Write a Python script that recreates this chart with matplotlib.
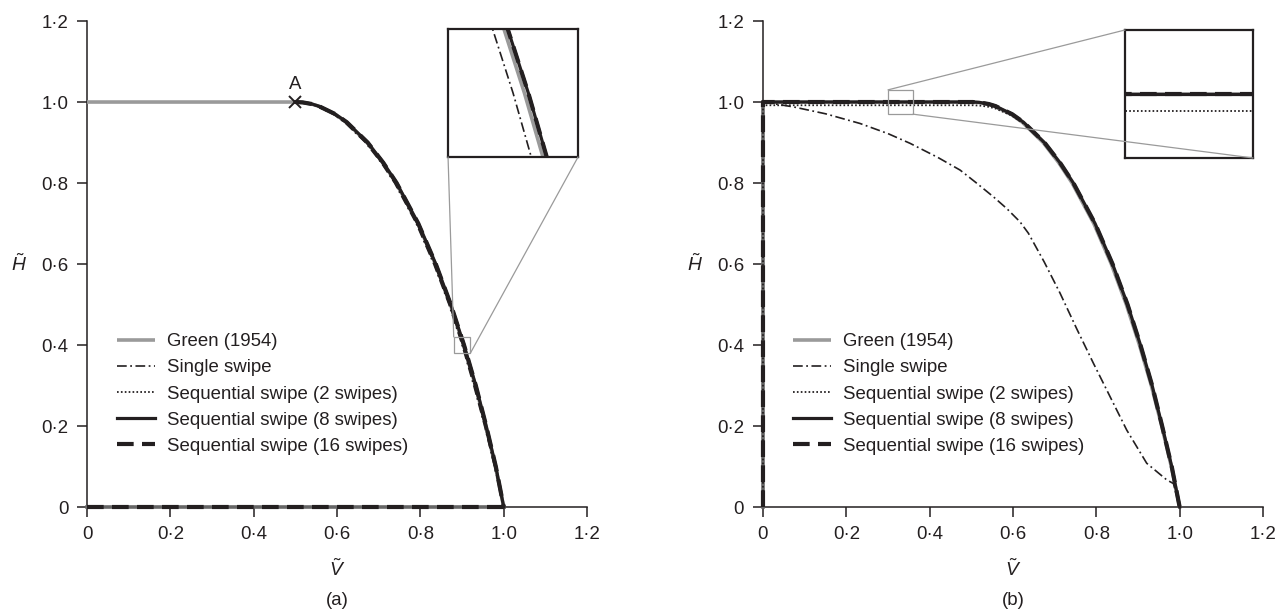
import matplotlib
matplotlib.use('Agg')
import matplotlib.pyplot as plt
from matplotlib.patches import Rectangle, ConnectionPatch

plt.rcParams['font.family'] = ['Liberation Sans', 'DejaVu Sans']
plt.rcParams['mathtext.fontset'] = 'custom'
plt.rcParams['mathtext.rm'] = 'Liberation Sans'
plt.rcParams['mathtext.it'] = 'Liberation Sans:italic'
plt.rcParams['lines.scale_dashes'] = False

# Datos
ticks = [0, 0.2, 0.4, 0.6, 0.8, 1.0, 1.2]
tick_labels = ['0', '0·2', '0·4', '0·6', '0·8', '1·0', '1·2']

# Green (1954)
green_V = [0.0, 0.5, 0.517, 0.539, 0.555, 0.595, 0.6225, 0.6725, 0.710, 0.742,
           0.794, 0.836, 0.872, 0.9035, 0.932, 0.957, 0.980, 1.0]
green_H = [1.0, 1.0, 0.999, 0.995, 0.99, 0.97, 0.95, 0.9, 0.85, 0.8,
           0.7, 0.6, 0.5, 0.4, 0.3, 0.2, 0.1, 0.0]

# (a) desde el punto A
a_single_V = [0.5, 0.515, 0.535, 0.551, 0.591, 0.618, 0.668, 0.706, 0.738,
              0.790, 0.832, 0.8685, 0.9, 0.928, 0.954, 0.978, 1.0]
a_seq_V = [0.5, 0.518, 0.540, 0.556, 0.596, 0.6235, 0.6735, 0.711, 0.743,
           0.795, 0.837, 0.873, 0.9047, 0.933, 0.958, 0.981, 1.0]
a_curve_H = [1.0, 0.999, 0.995, 0.99, 0.97, 0.95, 0.9, 0.85, 0.8,
             0.7, 0.6, 0.5, 0.4, 0.3, 0.2, 0.1, 0.0]
a_base_V = [0.0, 1.0]
a_base_H = [0.0, 0.0]

# (b)
b_single_V = [0.0, 0.073, 0.15, 0.233, 0.30, 0.353, 0.42, 0.473, 0.51, 0.553,
              0.585, 0.617, 0.637, 0.675, 0.713, 0.753, 0.793, 0.873, 0.921,
              0.969, 0.985, 1.0]
b_single_H = [1.0, 0.988, 0.971, 0.947, 0.922, 0.898, 0.863, 0.832, 0.802, 0.766,
              0.737, 0.704, 0.676, 0.605, 0.528, 0.44, 0.355, 0.19, 0.108,
              0.067, 0.058, 0.0]
b_seq_V = [0.0, 0.0, 0.503, 0.520, 0.542, 0.558, 0.598, 0.6255, 0.6755, 0.713,
           0.745, 0.797, 0.839, 0.875, 0.906, 0.934, 0.958, 0.981, 1.0]
b_seq_H = [0.0, 1.0, 1.0, 0.999, 0.995, 0.99, 0.97, 0.95, 0.9, 0.85,
           0.8, 0.7, 0.6, 0.5, 0.4, 0.3, 0.2, 0.1, 0.0]
b_seq2_V = [0.0, 0.0, 0.505, 0.522, 0.543, 0.558, 0.598, 0.6255, 0.6755, 0.713,
            0.745, 0.797, 0.839, 0.875, 0.906, 0.934, 0.958, 0.981, 1.0]
b_seq2_H = [0.0, 0.992, 0.992, 0.991, 0.988, 0.984, 0.966, 0.947, 0.898, 0.849,
            0.8, 0.7, 0.6, 0.5, 0.4, 0.3, 0.2, 0.1, 0.0]

labels = ['Green (1954)', 'Single swipe', 'Sequential swipe (2 swipes)',
          'Sequential swipe (8 swipes)', 'Sequential swipe (16 swipes)']

ink = '#231f20'
gris = '#9a9a9a'
fs = 13.4
est_green = dict(color=gris, lw=2.6, zorder=2, solid_capstyle='butt')
est_single = dict(color=ink, lw=1.2, dashes=(7, 2.5, 1.3, 2.5), zorder=3)
est_dot = dict(color=ink, lw=1.3, dashes=(1.2, 1.6), zorder=3)
est_solid = dict(color=ink, lw=2.3, zorder=4)
est_dash = dict(color=ink, lw=3.0, dashes=(12, 6), zorder=5)


def dibujar_a(ax, principal=True):
    lab = labels if principal else [None] * 5
    c = not principal
    ax.plot(green_V, green_H, label=lab[0], clip_on=c, **est_green)
    ax.plot(a_single_V, a_curve_H, label=lab[1], clip_on=c, **est_single)
    ax.plot(a_base_V, a_base_H, clip_on=c, color='#666666', lw=2.6, zorder=3)
    ax.plot(a_seq_V, a_curve_H, label=lab[2], clip_on=c, **est_dot)
    ax.plot(a_seq_V, a_curve_H, label=lab[3], clip_on=c, **est_solid)
    ax.plot(a_base_V, a_base_H, clip_on=c, **est_dash)
    ax.plot(a_seq_V, a_curve_H, label=lab[4], clip_on=c, **est_dash)


def dibujar_b(ax, principal=True):
    lab = labels if principal else [None] * 5
    c = not principal
    ax.plot(green_V, green_H, label=lab[0], clip_on=c, **est_green)
    ax.plot(b_single_V, b_single_H, label=lab[1], clip_on=c, **est_single)
    ax.plot(b_seq2_V[:2], b_seq2_H[:2], clip_on=c, color='#666666', lw=2.6, zorder=3)
    ax.plot(b_seq2_V, b_seq2_H, label=lab[2], clip_on=c, **est_dot)
    ax.plot(b_seq_V[1:], b_seq_H[1:], label=lab[3], clip_on=c, **est_solid)
    ax.plot(b_seq_V, b_seq_H, label=lab[4], clip_on=c, **est_dash)


def formato(ax, letra):
    ax.set_xlim(0, 1.2)
    ax.set_ylim(0, 1.2)
    ax.spines['top'].set_visible(False)
    ax.spines['right'].set_visible(False)
    for s in ['left', 'bottom']:
        ax.spines[s].set_color(ink)
        ax.spines[s].set_linewidth(1.1)
        ax.spines[s].set_zorder(1)
    ax.set_xticks(ticks)
    ax.set_xticklabels(tick_labels)
    ax.set_yticks(ticks)
    ax.set_yticklabels(tick_labels)
    ax.tick_params(direction='out', length=7.5, width=1.1, color=ink,
                   labelcolor=ink, labelsize=fs)
    ax.tick_params(axis='x', pad=6.5)
    ax.tick_params(axis='y', pad=6)
    ax.set_xlabel(r'$\tilde{V}$', fontsize=fs + 0.5, color=ink, va='center')
    ax.xaxis.set_label_coords(0.5, -0.128)
    ax.set_ylabel(r'$\tilde{H}$', fontsize=fs + 0.5, color=ink, rotation=0,
                  va='center', ha='center')
    ax.yaxis.set_label_coords(-0.136, 0.5)
    ax.text(0.5, -0.193, letra, transform=ax.transAxes, ha='center', va='center',
            fontsize=fs, color=ink)
    leg = ax.legend(loc='upper left', bbox_to_anchor=(0.045, 0.373), frameon=False,
                    fontsize=fs, handlelength=2.05, handletextpad=0.64,
                    labelspacing=0.49, borderaxespad=0)
    for t in leg.get_texts():
        t.set_color(ink)


def recuadro(fig, ax, axins, x0, x1, y0, y1, esquinas):
    axins.set_xlim(x0, x1)
    axins.set_ylim(y0, y1)
    axins.set_xticks([])
    axins.set_yticks([])
    for s in axins.spines.values():
        s.set_color(ink)
        s.set_linewidth(1.6)
    ax.add_patch(Rectangle((x0, y0), x1 - x0, y1 - y0, fill=False,
                           edgecolor=gris, lw=0.9, zorder=6))
    for (xa, ya), (xb, yb) in esquinas:
        con = ConnectionPatch(xyA=(xa, ya), coordsA=ax.transData,
                              xyB=(xb, yb), coordsB=axins.transAxes,
                              color=gris, lw=0.9, zorder=10)
        fig.add_artist(con)


fig = plt.figure(figsize=(12.86, 6.13), dpi=100)
ax1 = fig.add_axes([0.0677, 0.1729, 0.3888, 0.7928])
ax2 = fig.add_axes([0.5933, 0.1729, 0.3888, 0.7928])

dibujar_a(ax1)
ax1.plot([0.5], [1.0], marker='x', color=ink, ms=9, mew=1.4, zorder=7, ls='none')
ax1.text(0.5, 1.022, 'A', ha='center', va='bottom', fontsize=fs, color=ink)
formato(ax1, '(a)')

dibujar_b(ax2)
formato(ax2, '(b)')

ins1 = fig.add_axes([0.3484, 0.7439, 0.1011, 0.2088])
dibujar_a(ins1, principal=False)
recuadro(fig, ax1, ins1, 0.88, 0.92, 0.38, 0.42,
         [((0.88, 0.42), (0, 0)), ((0.92, 0.38), (1, 0))])

ins2 = fig.add_axes([0.8748, 0.7423, 0.0995, 0.2088])
dibujar_b(ins2, principal=False)
recuadro(fig, ax2, ins2, 0.30, 0.36, 0.97, 1.03,
         [((0.30, 1.03), (0, 1)), ((0.36, 0.97), (1, 0))])

fig.savefig('out.png', dpi=100)
